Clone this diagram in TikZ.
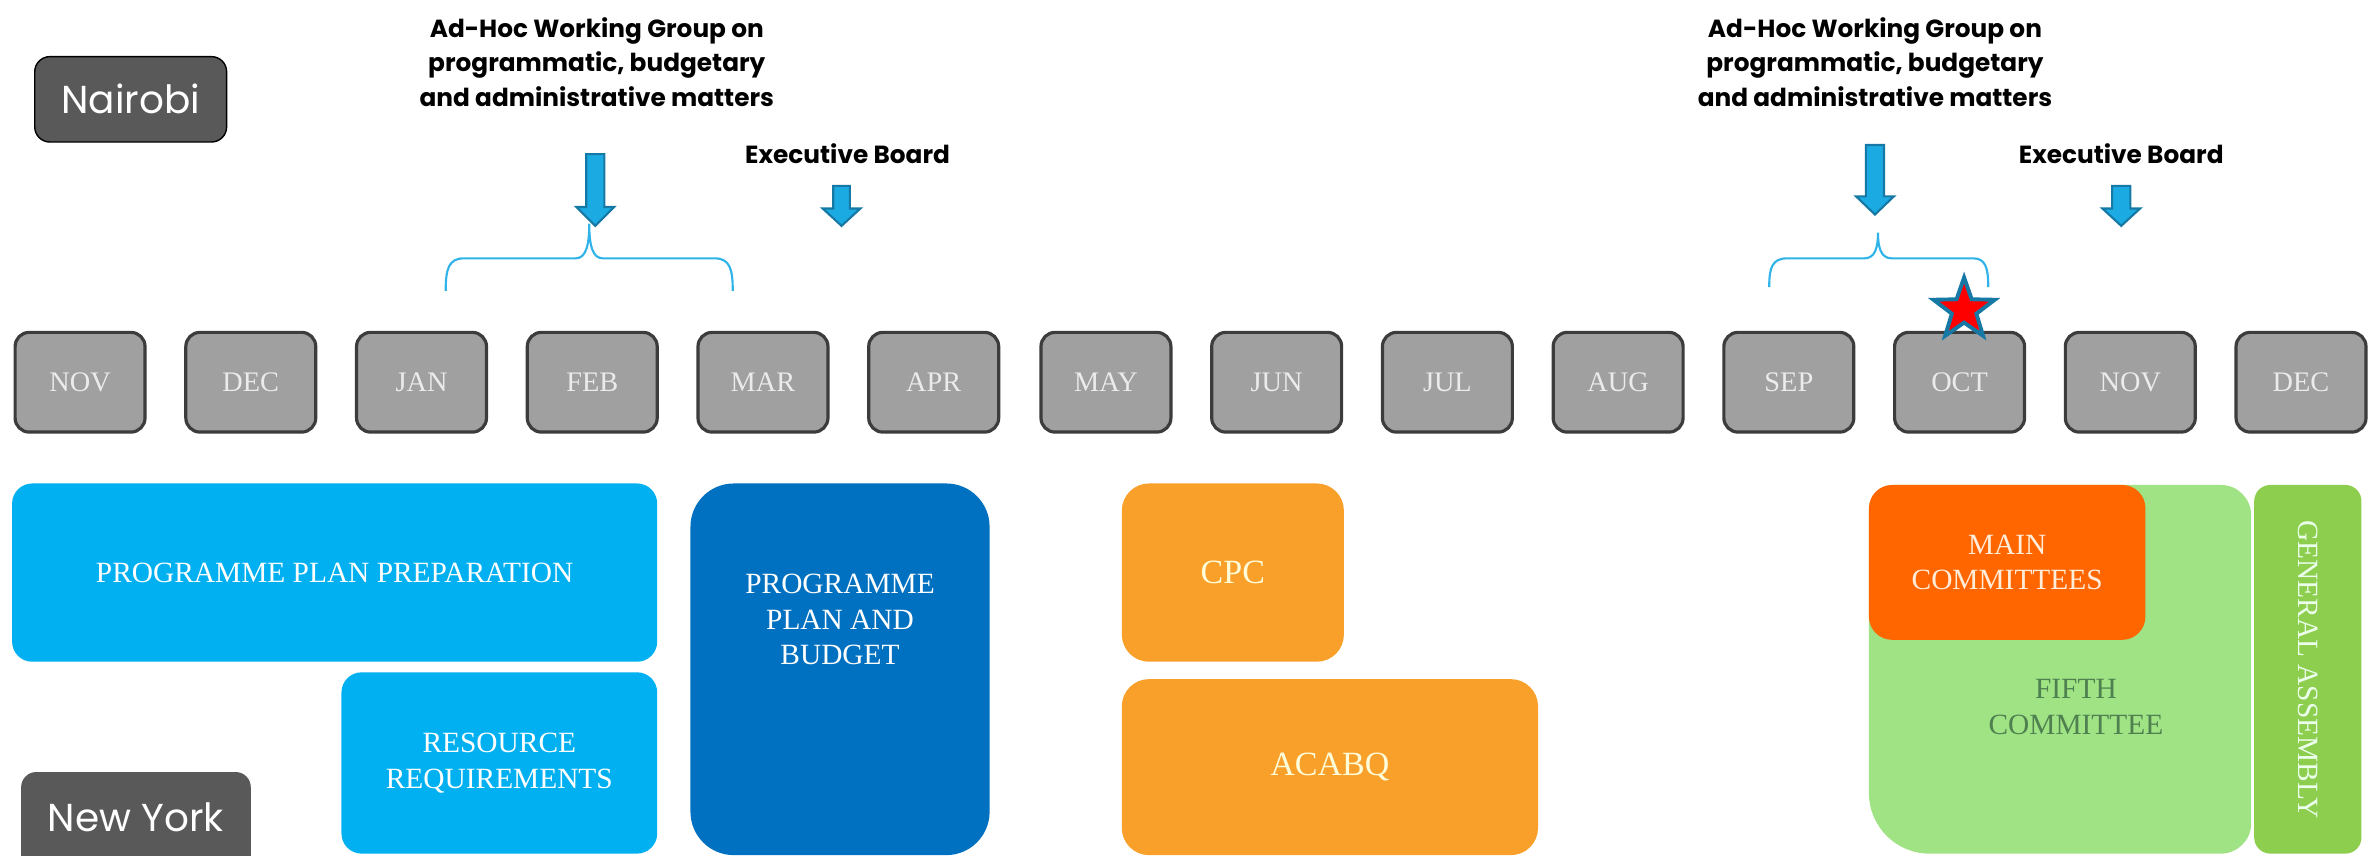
\documentclass[tikz,border=0pt]{standalone}
\usepackage{fontspec}
\setmainfont{Liberation Serif}
\newfontfamily\gothic{Poppins}
\usetikzlibrary{shapes.geometric}

\definecolor{monthgray}{HTML}{A0A0A0}
\definecolor{monthline}{HTML}{3C3C3C}
\definecolor{citygray}{HTML}{595959}
\definecolor{skyblue}{HTML}{00B0F0}
\definecolor{deepblue}{HTML}{0070C0}
\definecolor{amber}{HTML}{F9A02B}
\definecolor{redorange}{HTML}{FF6600}
\definecolor{palegreen}{HTML}{A0E384}
\definecolor{grassgreen}{HTML}{8DCE4E}
\definecolor{fifthtext}{HTML}{4F8050}
\definecolor{arrowblue}{HTML}{1BABE2}
\definecolor{arrowline}{HTML}{1679A5}
\definecolor{bracecol}{HTML}{2FB3E8}

\tikzset{
  month/.style={draw=monthline, fill=monthgray, line width=0.9pt, rounded corners=1.4mm, text=white!92!black, font=\fontsize{8}{9.6}\selectfont},
  city/.style={fill=citygray, rounded corners=1.5mm},
  citytext/.style={text=white, font=\gothic\fontsize{11}{13}\selectfont},
  meeting/.style={font=\gothic\bfseries\fontsize{7}{9.8}\selectfont, align=center},
  plan/.style={font=\fontsize{8.3}{10}\selectfont, align=center},
  downarrow/.style={fill=arrowblue, draw=arrowline, line width=0.6pt, line join=miter},
  bracket/.style={draw=bracecol, line width=0.6pt},
}

\begin{document}
\begin{tikzpicture}[x=0.15mm,y=-0.15mm]
\useasboundingbox (0,0) rectangle (1568,566.5);

\draw[city] (23,37.5) rectangle (150,94) node[pos=.5, citytext] (nairobi) {Nairobi};
\fill[city] (14,511) rectangle (166,600);
\node[citytext] (newyork) at (90,541) {New York};

\node[meeting] (adhoc1) at (395,41) {Ad-Hoc Working Group on\\programmatic, budgetary\\and administrative matters};
\node[meeting] (exec1) at (561,101.5) {Executive Board};
\node[meeting] (adhoc2) at (1241,41) {Ad-Hoc Working Group on\\programmatic, budgetary\\and administrative matters};
\node[meeting] (exec2) at (1404,101.5) {Executive Board};

\draw[downarrow] (388,102) -- ++(12,0) -- ++(0,35) -- ++(6.5,0) -- ++(-12.5,12.5) -- ++(-12.5,-12.5) -- ++(6.5,0) -- cycle;
\draw[downarrow] (551.5,123) -- ++(11,0) -- ++(0,15) -- ++(7,0) -- ++(-12.5,11.5) -- ++(-12.5,-11.5) -- ++(7,0) -- cycle;
\draw[downarrow] (1235,96) -- ++(12,0) -- ++(0,34) -- ++(6.5,0) -- ++(-12.5,12) -- ++(-12.5,-12) -- ++(6.5,0) -- cycle;
\draw[downarrow] (1398,123) -- ++(12,0) -- ++(0,15) -- ++(6.5,0) -- ++(-12.5,11.5) -- ++(-12.5,-11.5) -- ++(6.5,0) -- cycle;

\draw[bracket] (295,192.5) .. controls (295,178) and (297,171) .. (307,171) -- (381,171) .. controls (388,171) and (390,162) .. (390,148) .. controls (390,162) and (392,171) .. (399,171) -- (473,171) .. controls (483,171) and (485,178) .. (485,192.5);
\draw[bracket] (1171,190) .. controls (1171,177) and (1173,171) .. (1183,171) -- (1234,171) .. controls (1241,171) and (1243,164) .. (1243,154) .. controls (1243,164) and (1245,171) .. (1252,171) -- (1306,171) .. controls (1314,171) and (1316,177) .. (1316,190);

\draw[month] (10,220) rectangle (96,286) node[pos=.5] (nov1) {NOV};
\draw[month] (123,220) rectangle (209,286) node[pos=.5] (dec1) {DEC};
\draw[month] (236,220) rectangle (322,286) node[pos=.5] (jan) {JAN};
\draw[month] (349,220) rectangle (435,286) node[pos=.5] (feb) {FEB};
\draw[month] (462,220) rectangle (548,286) node[pos=.5] (mar) {MAR};
\draw[month] (575,220) rectangle (661,286) node[pos=.5] (apr) {APR};
\draw[month] (689,220) rectangle (775,286) node[pos=.5] (may) {MAY};
\draw[month] (802,220) rectangle (888,286) node[pos=.5] (jun) {JUN};
\draw[month] (915,220) rectangle (1001,286) node[pos=.5] (jul) {JUL};
\draw[month] (1028,220) rectangle (1114,286) node[pos=.5] (aug) {AUG};
\draw[month] (1141,220) rectangle (1227,286) node[pos=.5] (sep) {SEP};
\draw[month] (1254,220) rectangle (1340,286) node[pos=.5] (oct) {OCT};
\draw[month] (1367,220) rectangle (1453,286) node[pos=.5] (nov2) {NOV};
\draw[month] (1480,220) rectangle (1566,286) node[pos=.5] (dec2) {DEC};

\node[star, star points=5, star point ratio=2.5, minimum size=6.4mm, inner sep=0pt, fill=red, draw=arrowline, line width=1.1pt] (octstar) at (1300,205) {};

\fill[skyblue, rounded corners=2mm, plan, text=white] (8,320) rectangle (435,438) node[pos=.5] (prepare) {PROGRAMME PLAN PREPARATION};
\fill[skyblue, rounded corners=2mm, plan, text=white] (226,445) rectangle (435,565) node[pos=.5] (resource) {RESOURCE\\REQUIREMENTS};
\fill[deepblue, rounded corners=4.3mm] (457,320) rectangle (655,566);
\node[plan, text=white] (budget) at (556,410) {PROGRAMME\\PLAN AND\\BUDGET};
\fill[amber, rounded corners=2.7mm, plan, text=white!85!yellow, font=\fontsize{9.6}{11}\selectfont] (742.5,320) rectangle (889.5,438) node[pos=.5] (cpc) {CPC};
\fill[amber, rounded corners=2.7mm, plan, text=white!85!yellow, font=\fontsize{9.6}{11}\selectfont] (742.5,449.5) rectangle (1018,566) node[pos=.5] (acabq) {ACABQ};

\fill[palegreen] (1254,321) -- (1470,321) .. controls (1481,321) and (1490,330) .. (1490,341) -- (1490,545) .. controls (1490,556) and (1481,565) .. (1470,565) -- (1277,565) .. controls (1255,565) and (1237,547) .. (1237,525) -- (1237,338) .. controls (1237,328.6) and (1244.6,321) .. (1254,321) -- cycle;
\node[plan, text=fifthtext] (fifth) at (1374,468) {FIFTH\\COMMITTEE};
\fill[redorange, rounded corners=2.3mm, plan, text=white!85!orange] (1237,321) rectangle (1420,423.5) node[pos=.5] (main) {MAIN\\COMMITTEES};
\fill[grassgreen, rounded corners=1.6mm, plan, text=white!92!green] (1492,321) rectangle (1563,565) node[pos=.5, rotate=-90] (assembly) {GENERAL ASSEMBLY};

\end{tikzpicture}
\end{document}
